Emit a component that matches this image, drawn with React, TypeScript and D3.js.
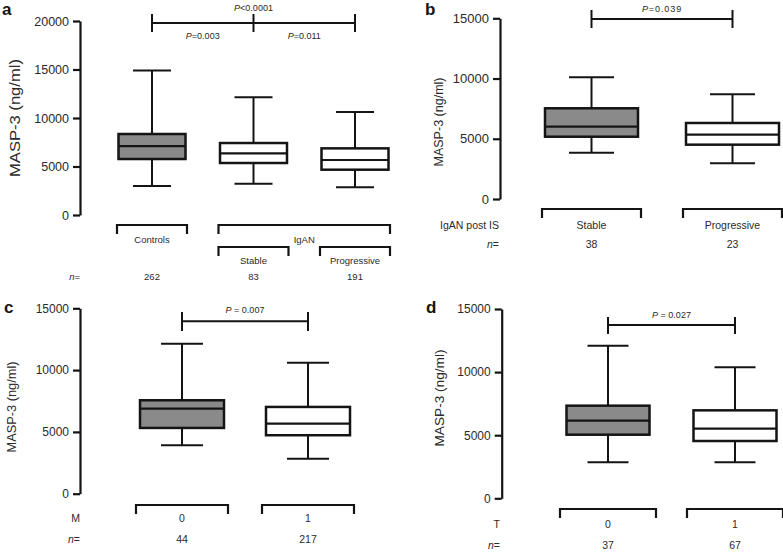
import React, { useEffect, useRef } from "react";
import * as d3 from "d3";

// panel a
const aGroups = ["Controls", "Stable", "Progressive"];
const aMin = [2990, 3230, 2850];
const aQ1 = [5770, 5360, 4670];
const aMedian = [7110, 6360, 5670];
const aQ3 = [8350, 7420, 6870];
const aMax = [14900, 12130, 10620];
const aN = [262, 83, 191];
const aTicks = [0, 5000, 10000, 15000, 20000];

// panel b
const bGroups = ["Stable", "Progressive"];
const bMin = [3840, 2960];
const bQ1 = [5170, 4510];
const bMedian = [6000, 5340];
const bQ3 = [7530, 6310];
const bMax = [10100, 8690];
const bN = [38, 23];

// panel c
const cGroups = ["0", "1"];
const cMin = [3920, 2830];
const cQ1 = [5320, 4730];
const cMedian = [6880, 5670];
const cQ3 = [7560, 7020];
const cMax = [12140, 10600];
const cN = [44, 217];

// panel d
const dGroups = ["0", "1"];
const dMin = [2850, 2850];
const dQ1 = [5040, 4540];
const dMedian = [6150, 5520];
const dQ3 = [7340, 6970];
const dMax = [12090, 10380];
const dN = [37, 67];

const smallTicks = [0, 5000, 10000, 15000];

const FONT = "'Liberation Sans', Arial, Helvetica, sans-serif";
const INK = "#141414";
const TXT = "#2a2a2a";
const GREY = "#8a8a8a";

const panels = [
  {
    letter: "a", letterX: 2, letterY: 15,
    groups: aGroups, min: aMin, q1: aQ1, med: aMedian, q3: aQ3, max: aMax, n: aN,
    ticks: aTicks, yMax: 20000, axisX: 80, yTop: 21, yBottom: 215,
    x0: 152, x1: 355, boxW: 67, capW: 38, brHalf: 35,
    tickFont: 12.5, labelX: 15, labelY: 118, labelLen: 118, labelFont: 14.5,
    sig: { from: 0, to: 2, mids: [1], y: 23, top: 14, bot: 32, text: "<0.0001", textY: 11, spacing: 0 },
    subSig: [
      { a: 0, b: 1, text: "=0.003", y: 39 },
      { a: 1, b: 2, text: "=0.011", y: 39 },
    ],
    brackets: [
      { from: 0, to: 0, y: 225, label: aGroups[0], labelY: 243 },
      { from: 1, to: 2, y: 225, label: "IgAN", labelY: 243 },
      { from: 1, to: 1, y: 247, label: aGroups[1], labelY: 264 },
      { from: 2, to: 2, y: 247, label: aGroups[2], labelY: 264 },
    ],
    catFont: 9.5, rowLabel: "", rowX: 80, rowY: 0, nY: 280,
  },
  {
    letter: "b", letterX: 425, letterY: 15,
    groups: bGroups, min: bMin, q1: bQ1, med: bMedian, q3: bQ3, max: bMax, n: bN,
    ticks: smallTicks, yMax: 15000, axisX: 500, yTop: 18.3, yBottom: 199,
    x0: 591.5, x1: 732.5, boxW: 93, capW: 45, brHalf: 49.5,
    tickFont: 13, labelX: 439, labelY: 122, labelLen: 89, labelFont: 12.5,
    sig: { from: 0, to: 1, mids: [], y: 19, top: 10, bot: 28, text: "=0.039", textY: 11.5, spacing: 0.9 },
    subSig: [],
    brackets: [
      { from: 0, to: 0, y: 209, label: bGroups[0], labelY: 229 },
      { from: 1, to: 1, y: 209, label: bGroups[1], labelY: 229 },
    ],
    catFont: 10.5, rowLabel: "IgAN post IS", rowX: 499, rowY: 229, nY: 248,
  },
  {
    letter: "c", letterX: 4, letterY: 313,
    groups: cGroups, min: cMin, q1: cQ1, med: cMedian, q3: cQ3, max: cMax, n: cN,
    ticks: smallTicks, yMax: 15000, axisX: 80, yTop: 308.3, yBottom: 493.7,
    x0: 182, x1: 308, boxW: 84, capW: 42, brHalf: 46,
    tickFont: 12, labelX: 12, labelY: 407, labelLen: 91, labelFont: 12.5,
    sig: { from: 0, to: 1, mids: [], y: 321.3, top: 312, bot: 331, text: " = 0.007", textY: 313, spacing: 0 },
    subSig: [],
    brackets: [
      { from: 0, to: 0, y: 505, label: cGroups[0], labelY: 522 },
      { from: 1, to: 1, y: 505, label: cGroups[1], labelY: 522 },
    ],
    catFont: 10.5, rowLabel: "M", rowX: 80, rowY: 522, nY: 543,
  },
  {
    letter: "d", letterX: 426, letterY: 313,
    groups: dGroups, min: dMin, q1: dQ1, med: dMedian, q3: dQ3, max: dMax, n: dN,
    ticks: smallTicks, yMax: 15000, axisX: 501.7, yTop: 309, yBottom: 498.3,
    x0: 608, x1: 735, boxW: 83, capW: 41, brHalf: 48,
    tickFont: 12, labelX: 439, labelY: 398, labelLen: 97, labelFont: 13,
    sig: { from: 0, to: 1, mids: [], y: 325, top: 317, bot: 334, text: " = 0.027", textY: 318, spacing: 0 },
    subSig: [],
    brackets: [
      { from: 0, to: 0, y: 509, label: dGroups[0], labelY: 528 },
      { from: 1, to: 1, y: 509, label: dGroups[1], labelY: 528 },
    ],
    catFont: 10.5, rowLabel: "T", rowX: 500, rowY: 528, nY: 549,
  },
];

function pText(sel: any, x: number, y: number, rest: string, spacing: number) {
  const t = sel.append("text")
    .attr("x", x).attr("y", y)
    .attr("text-anchor", "middle")
    .attr("font-size", 9)
    .attr("letter-spacing", spacing)
    .attr("fill", TXT);
  t.append("tspan").attr("font-style", "italic").text("P");
  t.append("tspan").text(rest);
}

function drawPanel(svg: any, p: any) {
  const g = svg.append("g").attr("font-family", FONT);

  const y = d3.scaleLinear().domain([0, p.yMax]).range([p.yBottom, p.yTop]);
  const x = d3.scalePoint<string>().domain(p.groups).range([p.x0, p.x1]);
  const cx = (i: number) => x(p.groups[i]) as number;

  // panel letter
  g.append("text").attr("x", p.letterX).attr("y", p.letterY)
    .attr("font-size", 17).attr("font-weight", "bold").attr("fill", INK)
    .text(p.letter);

  // y axis
  const ax = g.append("g")
    .attr("transform", `translate(${p.axisX},0)`)
    .call(d3.axisLeft(y).tickValues(p.ticks).tickSize(7).tickSizeOuter(0).tickPadding(4).tickFormat(d3.format("d")));
  ax.select(".domain").attr("stroke", INK).attr("stroke-width", 2.2);
  ax.selectAll(".tick line").attr("stroke", INK).attr("stroke-width", 2.2);
  ax.selectAll(".tick text").attr("font-size", p.tickFont).attr("fill", TXT).attr("font-family", FONT);

  g.append("text")
    .attr("transform", `translate(${p.labelX},${p.labelY}) rotate(-90)`)
    .attr("text-anchor", "middle").attr("dy", "0.35em")
    .attr("font-size", p.labelFont).attr("fill", TXT)
    .attr("textLength", p.labelLen).attr("lengthAdjust", "spacingAndGlyphs")
    .text("MASP-3 (ng/ml)");

  // boxes
  p.groups.forEach((grp: string, i: number) => {
    const c = cx(i);
    const bg = g.append("g").attr("stroke", INK).attr("fill", "none");
    bg.append("line").attr("x1", c).attr("x2", c).attr("y1", y(p.min[i])).attr("y2", y(p.max[i])).attr("stroke-width", 2);
    bg.append("line").attr("x1", c - p.capW / 2).attr("x2", c + p.capW / 2).attr("y1", y(p.max[i])).attr("y2", y(p.max[i])).attr("stroke-width", 2);
    bg.append("line").attr("x1", c - p.capW / 2).attr("x2", c + p.capW / 2).attr("y1", y(p.min[i])).attr("y2", y(p.min[i])).attr("stroke-width", 2);
    bg.append("rect")
      .attr("x", c - p.boxW / 2).attr("width", p.boxW)
      .attr("y", y(p.q3[i])).attr("height", y(p.q1[i]) - y(p.q3[i]))
      .attr("fill", i === 0 ? GREY : "#fff").attr("stroke-width", 2.5);
    bg.append("line").attr("x1", c - p.boxW / 2).attr("x2", c + p.boxW / 2)
      .attr("y1", y(p.med[i])).attr("y2", y(p.med[i])).attr("stroke-width", 2.2);
  });

  // significance bar
  const s = p.sig;
  const sg = g.append("g").attr("stroke", INK).attr("stroke-width", 2);
  sg.append("line").attr("x1", cx(s.from)).attr("x2", cx(s.to)).attr("y1", s.y).attr("y2", s.y);
  [s.from, s.to, ...s.mids].forEach((k: number) => {
    sg.append("line").attr("x1", cx(k)).attr("x2", cx(k)).attr("y1", s.top).attr("y2", s.bot);
  });
  pText(g, (cx(s.from) + cx(s.to)) / 2, s.textY, s.text, s.spacing);
  p.subSig.forEach((ss: any) => pText(g, (cx(ss.a) + cx(ss.b)) / 2, ss.y, ss.text, 0));

  // category brackets
  p.brackets.forEach((b: any) => {
    const xa = cx(b.from) - p.brHalf;
    const xb = cx(b.to) + p.brHalf;
    g.append("path")
      .attr("d", `M${xa},${b.y + 9}V${b.y}H${xb}V${b.y + 9}`)
      .attr("fill", "none").attr("stroke", INK).attr("stroke-width", 2.2);
    g.append("text").attr("x", (xa + xb) / 2).attr("y", b.labelY)
      .attr("text-anchor", "middle").attr("font-size", p.catFont).attr("fill", TXT)
      .text(b.label);
  });

  if (p.rowLabel) {
    g.append("text").attr("x", p.rowX).attr("y", p.rowY)
      .attr("text-anchor", "end").attr("font-size", p.catFont).attr("fill", TXT)
      .text(p.rowLabel);
  }
  const nl = g.append("text").attr("x", p.rowX).attr("y", p.nY)
    .attr("text-anchor", "end").attr("font-size", p.catFont).attr("fill", TXT);
  nl.append("tspan").attr("font-style", "italic").text("n");
  nl.append("tspan").text("=");

  p.n.forEach((v: number, i: number) => {
    g.append("text").attr("x", cx(i)).attr("y", p.nY)
      .attr("text-anchor", "middle").attr("font-size", p.catFont).attr("fill", TXT)
      .text(v);
  });
}

export default function App() {
  const ref = useRef<SVGSVGElement>(null);

  useEffect(() => {
    const svg = d3.select(ref.current);
    svg.selectAll("*").remove();
    panels.forEach((p) => drawPanel(svg, p));
  }, []);

  return (
    <div style={{ position: "absolute", left: 0, top: 0, background: "#fff" }}>
      <svg ref={ref} width={783} height={554} style={{ display: "block" }} />
    </div>
  );
}
